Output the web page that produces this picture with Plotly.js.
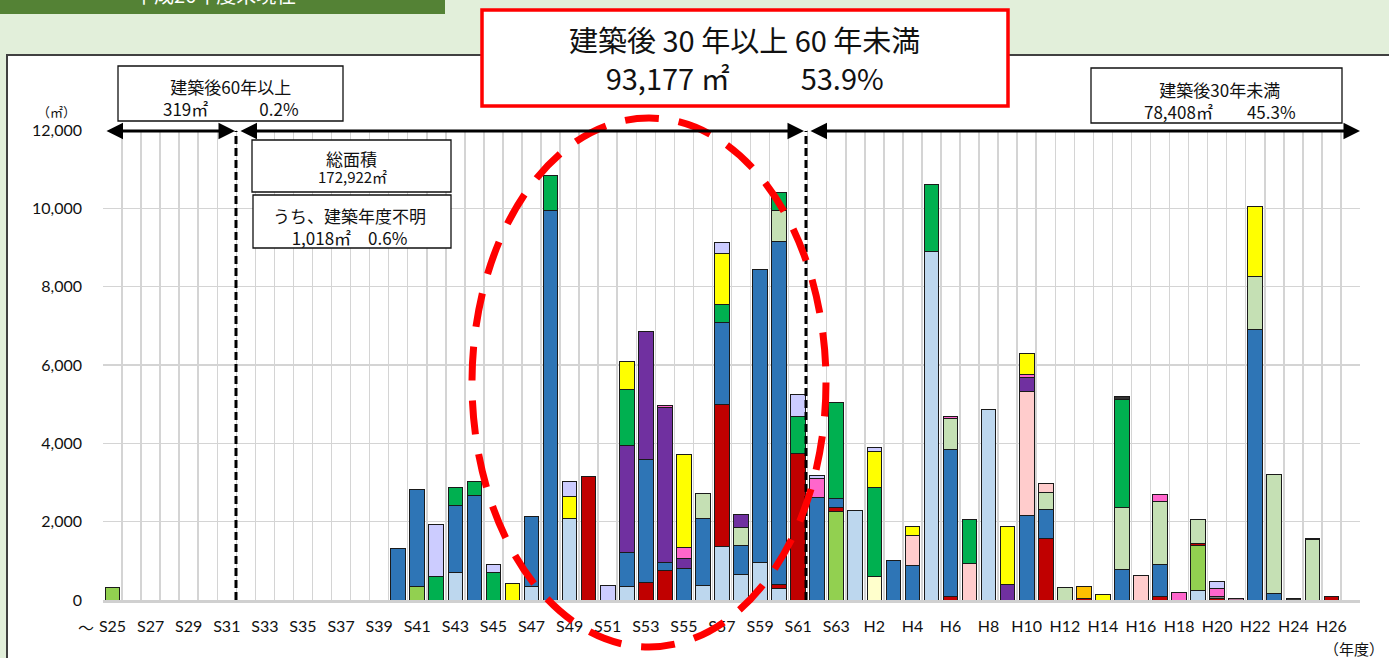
<!DOCTYPE html>
<html>
<head>
<meta charset="utf-8">
<script src="https://cdn.plot.ly/plotly-3.0.1.min.js"></script>
<style>html,body{margin:0;padding:0;background:#E2EFDA;}#chart{width:1389px;height:658px;}</style>
</head>
<body>
<div id="chart"></div>
<script>
// Categories (fiscal years) S25..S63, H1..H27
const categories = ["S25","S26","S27","S28","S29","S30","S31","S32","S33","S34",
  "S35","S36","S37","S38","S39","S40","S41","S42","S43","S44",
  "S45","S46","S47","S48","S49","S50","S51","S52","S53","S54",
  "S55","S56","S57","S58","S59","S60","S61","S62","S63","H1",
  "H2","H3","H4","H5","H6","H7","H8","H9","H10","H11",
  "H12","H13","H14","H15","H16","H17","H18","H19","H20","H21",
  "H22","H23","H24","H25","H26","H27"];
const tickLabels = ["S25","","S27","","S29","","S31","","S33","",
  "S35","","S37","","S39","","S41","","S43","",
  "S45","","S47","","S49","","S51","","S53","",
  "S55","","S57","","S59","","S61","","S63","",
  "H2","","H4","","H6","","H8","","H10","",
  "H12","","H14","","H16","","H18","","H20","",
  "H22","","H24","","H26",""];

// Stacked series (m2), bottom to top
const lightYellow = [0,0,0,0,0,0,0,0,0,0, 0,0,0,0,0,0,0,0,0,0, 0,0,0,0,0,0,0,0,0,0, 0,0,0,0,0,0,0,0,0,0,
  604,0,0,0,0,0,0,0,0,0, 0,0,0,0,0,0,0,0,0,0, 0,0,0,0,0,0];
const lightBlue = [0,0,0,0,0,0,0,0,0,0, 0,0,0,0,0,0,0,0,698,0, 0,0,357,0,2085,0,0,340,0,0, 0,374,1362,655,962,298,0,0,0,2298,
  0,0,0,8893,0,0,4859,0,0,0, 0,0,0,0,0,0,0,255,0,0, 0,0,0,0,0,0];
const lightGreen = [319,0,0,0,0,0,0,0,0,0, 0,0,0,0,0,0,357,0,0,0, 0,0,0,0,0,0,0,0,0,0, 0,0,0,0,0,0,0,0,2264,0,
  0,0,0,0,0,0,0,0,0,0, 0,0,0,0,0,0,0,1132,0,0, 0,0,0,0,0,0];
const red = [0,0,0,0,0,0,0,0,0,0, 0,0,0,0,0,0,0,0,0,0, 0,0,0,0,0,3166,0,0,451,757, 0,0,3633,0,0,110,3744,0,94,0,
  0,0,0,0,85,0,0,0,0,1574, 0,30,0,0,0,85,0,60,35,0, 0,0,0,0,94,0];
const gray = [0,0,0,0,0,0,0,0,0,0, 0,0,0,0,0,0,0,0,0,0, 0,0,0,0,0,0,0,0,0,0, 0,0,0,0,0,0,0,0,0,0,
  0,0,0,0,0,0,0,0,0,0, 0,0,0,0,0,0,0,0,60,0, 0,0,0,0,0,0];
const blue = [0,0,0,0,0,0,0,0,0,0, 0,0,0,0,0,1311,2465,0,1719,2672, 0,0,1771,9957,0,0,0,877,3140,196, 800,1702,2094,732,7471,8757,0,2613,230,0,
  0,1004,877,0,3762,0,0,0,2153,741, 0,0,0,791,0,809,0,0,0,0, 6910,170,0,0,0,0];
const paleGreen = [0,0,0,0,0,0,0,0,0,0, 0,0,0,0,0,0,0,0,0,0, 0,0,0,0,0,0,0,0,0,0, 0,647,0,460,0,775,0,0,0,0,
  0,0,0,0,791,0,0,0,0,425, 323,0,0,1575,0,1625,0,612,0,0, 1362,3047,0,1540,0,0];
const lightPink = [0,0,0,0,0,0,0,0,0,0, 0,0,0,0,0,0,0,0,0,0, 0,0,0,0,0,0,0,0,0,0, 0,0,0,0,0,0,0,0,0,0,
  0,0,774,0,0,936,0,0,3174,239, 0,0,0,0,621,0,0,0,0,0, 0,0,0,0,0,0];
const purple = [0,0,0,0,0,0,0,0,0,0, 0,0,0,0,0,0,0,0,0,0, 0,0,0,0,0,0,0,2740,3268,3957, 255,0,0,340,0,0,0,0,0,0,
  0,0,0,0,0,0,0,400,349,0, 0,0,0,0,0,0,0,0,0,0, 0,0,0,0,0,0];
const green = [0,0,0,0,0,0,0,0,0,0, 0,0,0,0,0,0,0,596,451,349, 698,0,0,893,0,0,0,1421,0,0, 0,0,468,0,0,459,937,0,2460,0,
  2272,0,0,1710,0,1132,0,0,0,0, 0,0,0,2766,0,0,0,0,0,0, 0,0,0,0,0,0];
const pink = [0,0,0,0,0,0,0,0,0,0, 0,0,0,0,0,0,0,0,0,0, 0,0,0,0,0,0,0,0,0,68, 290,0,0,0,0,0,0,493,0,0,
  0,0,0,0,51,0,0,0,94,0, 0,0,0,0,0,170,196,0,195,0, 0,0,0,0,0,0];
const orange = [0,0,0,0,0,0,0,0,0,0, 0,0,0,0,0,0,0,0,0,0, 0,0,0,0,0,0,0,0,0,0, 0,0,0,0,0,0,0,0,0,0,
  0,0,0,0,0,0,0,0,0,0, 0,310,0,0,0,0,0,0,0,0, 0,0,0,0,0,0];
const yellow = [0,0,0,0,0,0,0,0,0,0, 0,0,0,0,0,0,0,0,0,0, 0,426,0,0,553,0,0,707,0,0, 2365,0,1293,0,0,0,0,0,0,0,
  919,0,213,0,0,0,0,1489,527,0, 0,0,136,0,0,0,0,0,0,0, 1778,0,0,0,0,0];
const lavender = [0,0,0,0,0,0,0,0,0,0, 0,0,0,0,0,0,0,1336,0,0, 204,0,0,0,375,0,383,0,0,0, 0,0,290,0,0,0,578,77,0,0,
  102,0,0,0,0,0,0,0,0,0, 0,0,0,0,0,0,0,0,179,0, 0,0,0,0,0,0];
const dark = [0,0,0,0,0,0,0,0,0,0, 0,0,0,0,0,0,0,0,0,0, 0,0,0,0,0,0,0,0,0,0, 0,0,0,0,0,0,0,0,0,0,
  0,0,0,0,0,0,0,0,0,0, 0,0,0,59,0,0,0,0,0,0, 0,0,40,25,0,0];
const mauve = [0,0,0,0,0,0,0,0,0,0, 0,0,0,0,0,0,0,0,0,0, 0,0,0,0,0,0,0,0,0,0, 0,0,0,0,0,0,0,0,0,0,
  0,0,0,0,0,0,0,0,0,0, 0,0,0,0,0,0,0,0,0,34, 0,0,0,0,0,0];

const series = [
  [lightYellow, "#FFFFCC"], [lightBlue, "#BDD7EE"], [lightGreen, "#92D050"], [red, "#C00000"],
  [gray, "#7F7F7F"], [blue, "#2E75B6"], [paleGreen, "#C5E0B4"], [lightPink, "#FFCCCC"],
  [purple, "#7030A0"], [green, "#00B050"], [pink, "#FF66CC"], [orange, "#FFC000"],
  [yellow, "#FFFF00"], [lavender, "#CCCCFF"], [dark, "#333333"], [mauve, "#B07A9A"]
];

const traces = series.map(([vals, col]) => ({
  type: "bar", x: categories, y: vals.map(v => v === 0 ? null : v),
  marker: {color: col, line: {color: "#1A1A1A", width: 1}},
  hoverinfo: "x+y", showlegend: false
}));

// pixel -> paper helpers
const L = 103, R = 1360, T = 130, B = 600;
const px = x => (x - L) / (R - L);
const py = y => (B - y) / (B - T);

const jp = "Noto Sans CJK JP, Noto Sans, sans-serif";
const num = "Lato, Noto Sans CJK JP, sans-serif";

function rect(x0, y0, x1, y1, fill, lc, lw, layer) {
  return {type: "rect", xref: "paper", yref: "paper", x0: px(x0), x1: px(x1), y0: py(y1), y1: py(y0),
    fillcolor: fill, line: {color: lc, width: lw}, layer: layer || "above"};
}
function txt(x, y, t, size, opts) {
  return Object.assign({xref: "paper", yref: "paper", x: px(x), y: py(y), text: t, showarrow: false,
    xanchor: "center", yanchor: "middle", font: {family: jp, size: size, color: "#111"}}, opts || {});
}
function arrow(x0, x1, y) {
  return {xref: "paper", yref: "paper", x: px(x1), y: py(y), ax: x0 - x1, ay: 0, text: " ",
    font: {size: 1}, showarrow: true, arrowside: "end+start", arrowhead: 2, arrowsize: 1.1,
    arrowwidth: 3, arrowcolor: "#000", standoff: 0, startstandoff: 0};
}

const shapes = [
  rect(0, -10, 445, 14, "#548235", "#548235", 0, "below"),
  rect(7, 55, 1420, 700, "#FFFFFF", "#404040", 2, "below"),
  {type: "line", xref: "paper", yref: "paper", x0: px(236), x1: px(236), y0: 0, y1: py(131),
    line: {color: "#000", width: 3, dash: "8px,4px"}},
  {type: "line", xref: "paper", yref: "paper", x0: px(806), x1: px(806), y0: 0, y1: py(131),
    line: {color: "#000", width: 3, dash: "8px,4px"}},
  rect(118, 66, 343, 121, "#FFFFFF", "#111", 1.3),
  rect(252, 140, 451, 192, "#FFFFFF", "#111", 1.3),
  rect(253, 195, 451, 248, "#FFFFFF", "#111", 1.3),
  rect(1091, 68, 1342, 123, "#FFFFFF", "#111", 1.3),
  rect(482, 10, 1008, 106, "#FFFFFF", "#FF0000", 3.5),
  {type: "circle", xref: "paper", yref: "paper", x0: px(472), x1: px(826), y0: py(647), y1: py(118),
    line: {color: "#FF0000", width: 7, dash: "34px,20px"}}
];

const annotations = [
  txt(215, -6, "平成26年度末現在", 20, {font: {family: jp, size: 20, color: "#FFFFFF"}}),
  txt(745, 58, "建築後 30 年以上 60 年未満<br>93,177 ㎡　　  53.9%", 29),
  txt(231, 97, "建築後60年以上<br>319㎡　　　0.2%", 17),
  txt(351, 158, "総面積", 17),
  txt(352, 176, "172,922㎡", 15),
  txt(349, 226, "うち、建築年度不明<br>1,018㎡　0.6%", 17),
  txt(1220, 100, "建築後30年未満<br>78,408㎡　　45.3%", 17),
  txt(57, 111, "（㎡）", 13),
  txt(1354, 648, "（年度）", 15),
  txt(86, 627, "～", 16, {font: {family: jp, size: 16, color: "#111"}}),
  arrow(105, 235, 131),
  arrow(239, 804, 131),
  arrow(809, 1360, 131)
];

const layout = {
  width: 1389, height: 658,
  margin: {l: L, r: 1389 - R, t: T, b: 658 - B},
  paper_bgcolor: "#E2EFDA", plot_bgcolor: "rgba(0,0,0,0)",
  barmode: "stack", bargap: 0.23, showlegend: false,
  xaxis: {type: "category", categoryorder: "array", categoryarray: categories,
    tickmode: "array", tickvals: categories, ticktext: tickLabels, tickson: "boundaries",
    tickangle: 0, showgrid: true, gridcolor: "#D4D4D4", gridwidth: 1.5, ticks: "",
    showline: true, linecolor: "#D0D0D0", linewidth: 2.5, ticklabelstandoff: 10,
    tickfont: {family: num, size: 16, color: "#111"}, range: [-0.5, 65.5], fixedrange: true},
  yaxis: {range: [0, 12000], dtick: 2000, tick0: 0, tickformat: ",d", showgrid: true,
    gridcolor: "#D4D4D4", gridwidth: 1.5, zeroline: false, ticks: "", ticklabelstandoff: 20,
    tickfont: {family: num, size: 16, color: "#111"}, fixedrange: true},
  shapes: shapes, annotations: annotations
};

Plotly.newPlot("chart", traces, layout, {displayModeBar: false, staticPlot: true});
</script>
</body>
</html>
